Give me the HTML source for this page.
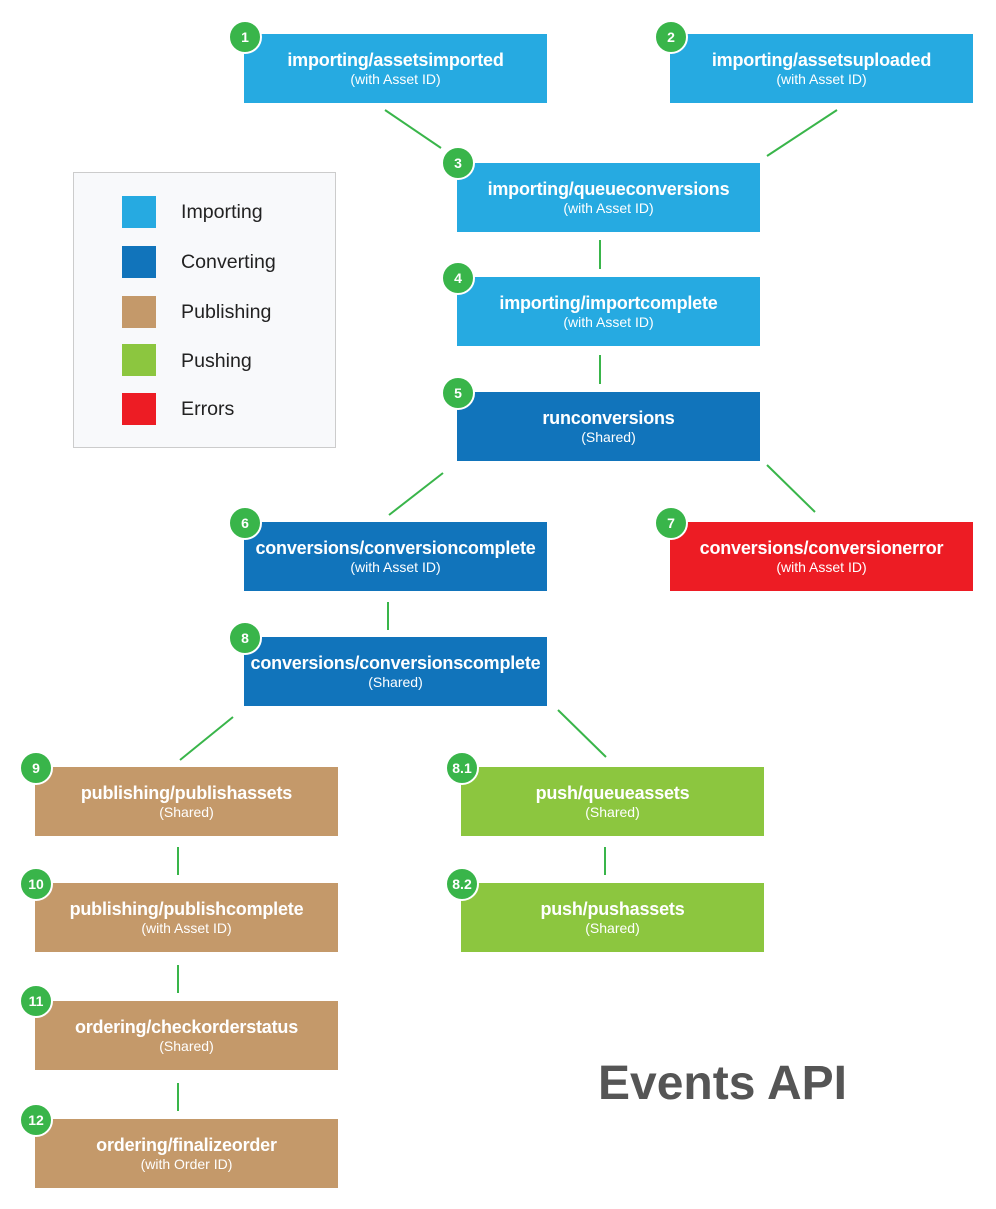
<!DOCTYPE html>
<html><head><style>
body{margin:0;width:996px;height:1209px;background:#fff;position:relative;font-family:"Liberation Sans",Arial,sans-serif;overflow:hidden}
.b{position:absolute;width:303px;height:69px;color:#fff;text-align:center;box-sizing:border-box;padding-top:16px}
.b .t{font-weight:bold;font-size:18px;line-height:21px;letter-spacing:-0.2px}
.b .s{font-size:14px;line-height:17px}
.lb{background:#26aae1}.db{background:#1174bb}.br{background:#c4996a}.gr{background:#8cc63f}.rd{background:#ed1c24}
.n{position:absolute;width:30px;height:30px;border-radius:50%;background:#39b54a;border:2px solid #fff;color:#fff;font-weight:bold;font-size:14px;line-height:30px;text-align:center;transform:translate(-17px,-17px)}
.lg{position:absolute;left:73px;top:172px;width:263px;height:276px;background:#f8f9fb;border:1px solid #ccc;box-sizing:border-box}
.sw{position:absolute;left:122px;width:34px;height:32px}
.lt{position:absolute;left:181px;font-size:19.6px;color:#222}
</style></head><body>
<svg width="996" height="1209" style="position:absolute;left:0;top:0" stroke="#39b54a" stroke-width="2">
<line x1="385" y1="110" x2="441" y2="148"/><line x1="837" y1="110" x2="767" y2="156"/>
<line x1="600" y1="240" x2="600" y2="269"/><line x1="600" y1="355" x2="600" y2="384"/>
<line x1="443" y1="473" x2="389" y2="515"/><line x1="767" y1="465" x2="815" y2="512"/>
<line x1="388" y1="602" x2="388" y2="630"/><line x1="233" y1="717" x2="180" y2="760"/>
<line x1="558" y1="710" x2="606" y2="757"/><line x1="178" y1="847" x2="178" y2="875"/>
<line x1="605" y1="847" x2="605" y2="875"/><line x1="178" y1="965" x2="178" y2="993"/>
<line x1="178" y1="1083" x2="178" y2="1111"/>
</svg>
<div class="lg"></div>
<div class="sw lb" style="top:196px"></div><div class="lt" style="top:201px">Importing</div>
<div class="sw db" style="top:246px"></div><div class="lt" style="top:251px">Converting</div>
<div class="sw br" style="top:296px"></div><div class="lt" style="top:301px">Publishing</div>
<div class="sw gr" style="top:344px"></div><div class="lt" style="top:350px">Pushing</div>
<div class="sw rd" style="top:393px"></div><div class="lt" style="top:398px">Errors</div>

<div class="b lb" style="left:244px;top:34px"><div class="t">importing/assetsimported</div><div class="s">(with Asset ID)</div></div>
<div class="b lb" style="left:670px;top:34px"><div class="t">importing/assetsuploaded</div><div class="s">(with Asset ID)</div></div>
<div class="b lb" style="left:457px;top:163px"><div class="t">importing/queueconversions</div><div class="s">(with Asset ID)</div></div>
<div class="b lb" style="left:457px;top:277px"><div class="t">importing/importcomplete</div><div class="s">(with Asset ID)</div></div>
<div class="b db" style="left:457px;top:392px"><div class="t">runconversions</div><div class="s">(Shared)</div></div>
<div class="b db" style="left:244px;top:522px"><div class="t">conversions/conversioncomplete</div><div class="s">(with Asset ID)</div></div>
<div class="b rd" style="left:670px;top:522px"><div class="t">conversions/conversionerror</div><div class="s">(with Asset ID)</div></div>
<div class="b db" style="left:244px;top:637px"><div class="t">conversions/conversionscomplete</div><div class="s">(Shared)</div></div>
<div class="b br" style="left:35px;top:767px"><div class="t">publishing/publishassets</div><div class="s">(Shared)</div></div>
<div class="b gr" style="left:461px;top:767px"><div class="t">push/queueassets</div><div class="s">(Shared)</div></div>
<div class="b br" style="left:35px;top:883px"><div class="t">publishing/publishcomplete</div><div class="s">(with Asset ID)</div></div>
<div class="b gr" style="left:461px;top:883px"><div class="t">push/pushassets</div><div class="s">(Shared)</div></div>
<div class="b br" style="left:35px;top:1001px"><div class="t">ordering/checkorderstatus</div><div class="s">(Shared)</div></div>
<div class="b br" style="left:35px;top:1119px"><div class="t">ordering/finalizeorder</div><div class="s">(with Order ID)</div></div>

<div class="n" style="left:245px;top:37px">1</div>
<div class="n" style="left:671px;top:37px">2</div>
<div class="n" style="left:458px;top:163px">3</div>
<div class="n" style="left:458px;top:278px">4</div>
<div class="n" style="left:458px;top:393px">5</div>
<div class="n" style="left:245px;top:523px">6</div>
<div class="n" style="left:671px;top:523px">7</div>
<div class="n" style="left:245px;top:638px">8</div>
<div class="n" style="left:36px;top:768px">9</div>
<div class="n" style="left:462px;top:768px">8.1</div>
<div class="n" style="left:36px;top:884px">10</div>
<div class="n" style="left:462px;top:884px">8.2</div>
<div class="n" style="left:36px;top:1001px">11</div>
<div class="n" style="left:36px;top:1120px">12</div>

<div style="position:absolute;left:598px;top:1056px;font-size:48px;font-weight:bold;color:#555;line-height:56px">Events API</div>
</body></html>
